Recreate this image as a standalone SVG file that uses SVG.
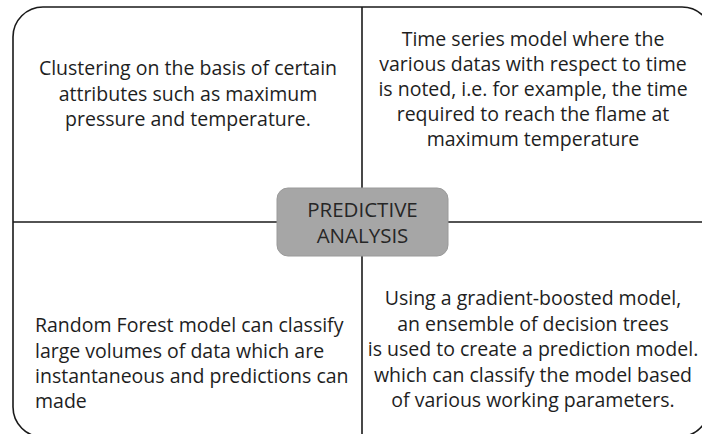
<svg xmlns="http://www.w3.org/2000/svg" width="702" height="434" viewBox="0 0 702 434">
<style>
.t{font-family:"Open Sans","Noto Sans",sans-serif;font-size:19.5px;fill:#1e1e1e}
.c{text-anchor:middle}
.ln{stroke:#1a1a1a;stroke-width:1.6;fill:none}
.hub{fill:#a6a6a6;stroke:#9a9a9a;stroke-width:1}
.ht{font-family:"Open Sans","Noto Sans",sans-serif;font-size:20.5px;fill:#262626;text-anchor:middle}
</style>
<rect width="702" height="434" fill="#ffffff"/>
<g id="frame">
<path class="ln" d="M43 437 A30 30 0 0 1 13 407 V37 A30 30 0 0 1 43 7 H682 A30 30 0 0 1 712 37 V398 A30 38 0 0 1 682 436"/>
</g>
<g id="connectors">
<line class="ln" x1="362" y1="7" x2="362" y2="188"/>
<line class="ln" x1="362" y1="256" x2="362" y2="440"/>
<line class="ln" x1="13" y1="222" x2="277" y2="222"/>
<line class="ln" x1="448" y1="222" x2="712" y2="222"/>
</g>
<g id="hub">
<rect class="hub" x="277" y="188" width="171" height="68" rx="11"/>
<text class="ht" x="362.5" y="217">PREDICTIVE</text>
<text class="ht" x="362.5" y="243">ANALYSIS</text>
</g>
<g id="top-left">
<text class="t c" x="188" y="75">Clustering on the basis of certain</text>
<text class="t c" x="188" y="101">attributes such as maximum</text>
<text class="t c" x="188" y="126">pressure and temperature.</text>
</g>
<g id="top-right">
<text class="t c" x="533" y="46">Time series model where the</text>
<text class="t c" x="533" y="71">various datas with respect to time</text>
<text class="t c" x="533" y="96">is noted, i.e. for example, the time</text>
<text class="t c" x="533" y="121">required to reach the flame at</text>
<text class="t c" x="533" y="146">maximum temperature</text>
</g>
<g id="bottom-left">
<text class="t" x="35" y="332">Random Forest model can classify</text>
<text class="t" x="35" y="358">large volumes of data which are</text>
<text class="t" x="35" y="383">instantaneous and predictions can</text>
<text class="t" x="35" y="408">made</text>
</g>
<g id="bottom-right">
<text class="t c" x="533" y="305">Using a gradient-boosted model,</text>
<text class="t c" x="533" y="331">an ensemble of decision trees</text>
<text class="t c" x="533" y="356">is used to create a prediction model.</text>
<text class="t c" x="533" y="382">which can classify the model based</text>
<text class="t c" x="533" y="407">of various working parameters.</text>
</g>
</svg>
